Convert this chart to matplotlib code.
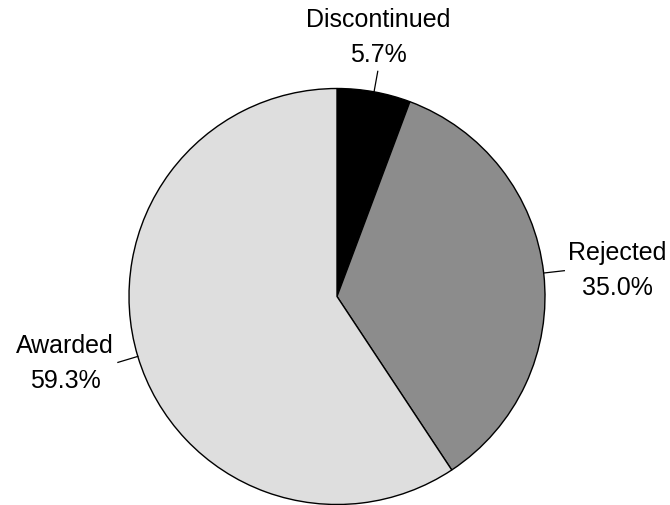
import numpy as np
import matplotlib
matplotlib.use("Agg")
import matplotlib.pyplot as plt

labels = ["Discontinued", "Rejected", "Awarded"]
shares = [5.7, 35.0, 59.3]
colors = ["#000000", "#8c8c8c", "#dedede"]

plt.rcParams["font.family"] = ["Liberation Sans", "DejaVu Sans"]

fig = plt.figure(figsize=(6.7, 5.05), dpi=100)
ax = fig.add_axes([0, 0, 1, 1])

wedges, _ = ax.pie(shares, colors=colors, startangle=90, counterclock=False,
                   radius=1.0, wedgeprops=dict(edgecolor="black", linewidth=1.0))

# pie center at about (337, 296) px, radius ~208 px
R = 208.0
cx, cy = 337.0, 296.5
ax.set_aspect("auto")
ax.set_xlim(-cx / R, (670 - cx) / R)
ax.set_ylim((cy - 505) / R, cy / R)
ax.axis("off")

for w, lab, val in zip(wedges, labels, shares):
    ang = np.deg2rad((w.theta1 + w.theta2) / 2)
    x, y = np.cos(ang), np.sin(ang)
    ax.plot([x, 1.1 * x], [y, 1.1 * y], color="black", lw=0.9)
    tx, ty = 1.12 * x, 1.12 * y
    if abs(x) < 0.4:
        ha, va = "center", "bottom"
    else:
        ha, va = ("left" if x > 0 else "right"), "center"
    ax.text(tx, ty, f"{lab}\n{val:.1f}%", ha=ha, va=va, multialignment="center",
            fontsize=18, linespacing=1.6)

fig.savefig("out.png", dpi=100)
